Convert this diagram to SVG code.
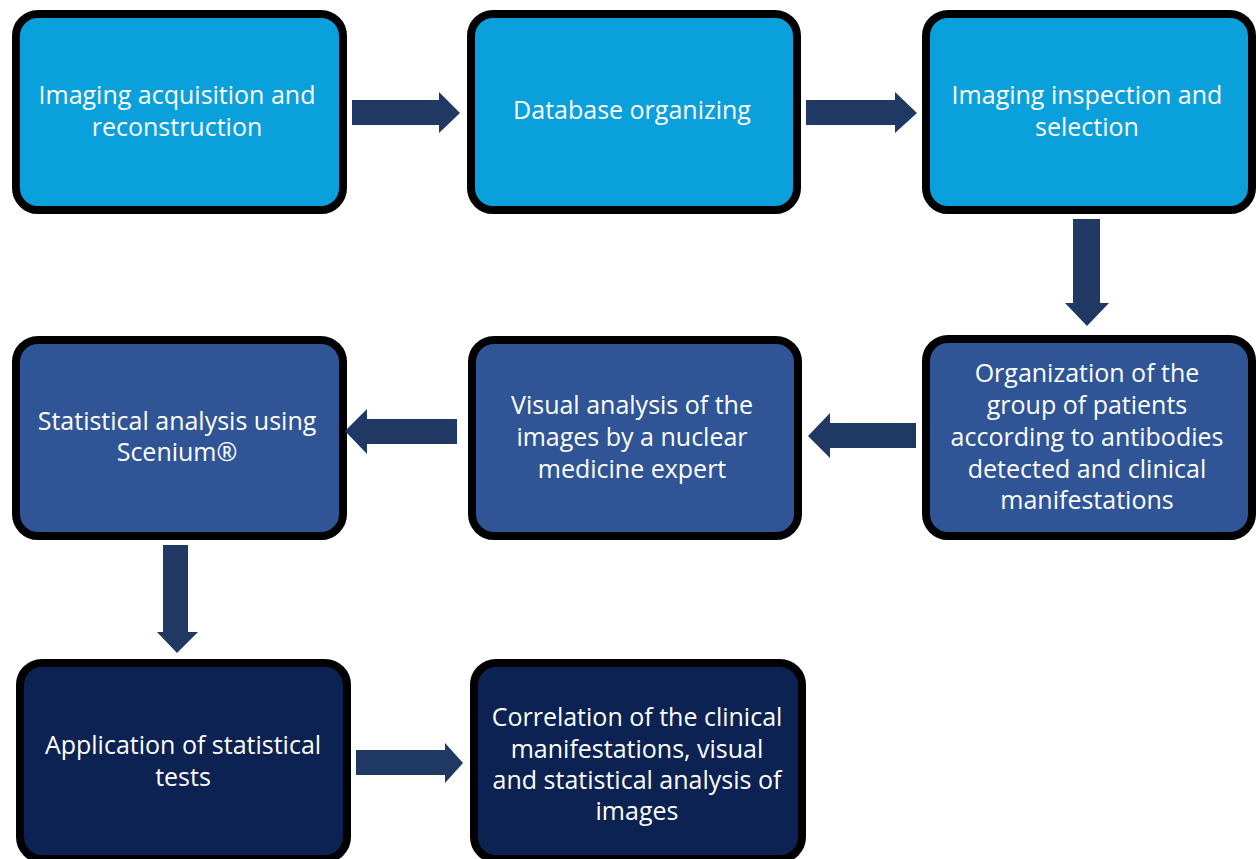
<svg xmlns="http://www.w3.org/2000/svg" width="1258" height="859" viewBox="0 0 1258 859">
<style>
.box{stroke:#000;stroke-width:8}
.r1{fill:#0AA0DC}
.r2{fill:#2F5597}
.r3{fill:#0B2253}
.t{font-family:"Open Sans","Liberation Sans",sans-serif;font-size:25px;fill:#fff;text-anchor:middle}
.arr{fill:#203864}
</style>
<rect width="1258" height="859" fill="#fff"/>
<g id="n1"><rect class="box r1" x="16" y="14" width="327" height="196" rx="22"/>
<text class="t" x="177" y="104">Imaging acquisition and</text><text class="t" x="177" y="136">reconstruction</text></g>
<g id="n2"><rect class="box r1" x="471" y="14" width="326" height="196" rx="22"/>
<text class="t" x="632" y="119">Database organizing</text></g>
<g id="n3"><rect class="box r1" x="926" y="14" width="326" height="196" rx="22"/>
<text class="t" x="1087" y="104">Imaging inspection and</text><text class="t" x="1087" y="136">selection</text></g>
<g id="n4"><rect class="box r2" x="16" y="340" width="327" height="196" rx="22"/>
<text class="t" x="177" y="430">Statistical analysis using</text><text class="t" x="177" y="461">Scenium®</text></g>
<g id="n5"><rect class="box r2" x="472" y="340" width="326" height="196" rx="22"/>
<text class="t" x="632" y="414">Visual analysis of the</text><text class="t" x="632" y="446">images by a nuclear</text><text class="t" x="632" y="478">medicine expert</text></g>
<g id="n6"><rect class="box r2" x="926" y="339" width="326" height="197" rx="22"/>
<text class="t" x="1087" y="382">Organization of the</text><text class="t" x="1087" y="414">group of patients</text><text class="t" x="1087" y="446">according to antibodies</text><text class="t" x="1087" y="478">detected and clinical</text><text class="t" x="1087" y="509">manifestations</text></g>
<g id="n7"><rect class="box r3" x="20" y="663" width="327" height="196" rx="22"/>
<text class="t" x="183" y="754">Application of statistical</text><text class="t" x="183" y="786">tests</text></g>
<g id="n8"><rect class="box r3" x="474" y="663" width="328" height="196" rx="22"/>
<text class="t" x="637" y="726">Correlation of the clinical</text><text class="t" x="637" y="758">manifestations, visual</text><text class="t" x="637" y="789">and statistical analysis of</text><text class="t" x="637" y="820">images</text></g>
<g id="connectors">
<polygon class="arr" points="352,100 439,100 439,92 460,113 439,133 439,125 352,125"/>
<polygon class="arr" points="806,100 895,100 895,92 917,113 895,133 895,125 806,125"/>
<polygon class="arr" points="1073,219 1100,219 1100,303 1109,303 1087,326 1065,303 1073,303"/>
<polygon class="arr" points="916,423 830,423 830,413 808,436 830,458 830,448 916,448"/>
<polygon class="arr" points="457,419 367,419 367,409 345,431 367,454 367,444 457,444"/>
<polygon class="arr" points="163,545 188,545 188,632 198,632 177,653 157,632 163,632"/>
<polygon class="arr" points="356,750 445,750 445,743 463,763 445,783 445,775 356,775"/>
</g>
</svg>
